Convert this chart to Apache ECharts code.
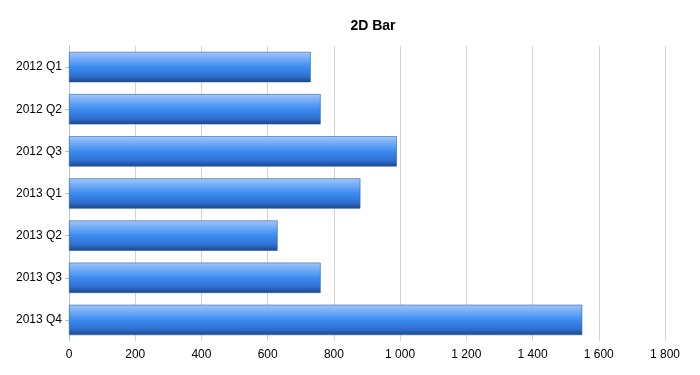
<!DOCTYPE html>
<html>
<head>
<meta charset="utf-8">
<script src="https://cdn.jsdelivr.net/npm/echarts@6/dist/echarts.min.js"></script>
<style>
  html, body { margin: 0; padding: 0; background: #fff; }
  #chart { width: 700px; height: 375px; }
</style>
</head>
<body>
<div id="chart"></div>
<script>
const categories = ['2012 Q1', '2012 Q2', '2012 Q3', '2013 Q1', '2013 Q2', '2013 Q3', '2013 Q4'];
const values = [730, 760, 990, 880, 630, 760, 1550];
const xTicks = { min: 0, max: 1800, interval: 200 };

function spaced(v) {
  return String(v).replace(/\B(?=(\d{3})+(?!\d))/g, ' ');
}

const barColor = new echarts.graphic.LinearGradient(0, 0, 0, 1, [
  { offset: 0, color: '#a3c8fa' },
  { offset: 0.2, color: '#78aef6' },
  { offset: 0.5, color: '#3b8cf0' },
  { offset: 0.8, color: '#2f70d0' },
  { offset: 1, color: '#1b4688' }
]);

const option = {
  animation: false,
  textStyle: { fontFamily: 'Liberation Sans, Arial, sans-serif' },
  title: {
    text: '2D Bar',
    left: 368,
    textAlign: 'center',
    top: 14,
    textStyle: { fontSize: 14, fontWeight: 'bold', color: '#000', fontFamily: 'Liberation Sans, Arial, sans-serif' }
  },
  grid: { left: 69, right: 35, top: 46, bottom: 34, containLabel: false },
  xAxis: {
    type: 'value',
    min: xTicks.min,
    max: xTicks.max,
    interval: xTicks.interval,
    axisLine: { show: false },
    axisTick: { show: false },
    splitLine: { show: true, lineStyle: { color: '#d4d4d4', width: 1 } },
    axisLabel: { color: '#000', fontSize: 12, margin: 8, formatter: spaced }
  },
  yAxis: {
    type: 'category',
    data: categories,
    inverse: true,
    axisLine: { show: true, lineStyle: { color: '#b4c4d4', width: 1 } },
    axisTick: { show: true, alignWithLabel: true, length: 4, lineStyle: { color: '#b4c4d4' } },
    axisLabel: { color: '#000', fontSize: 12, margin: 7 }
  },
  series: [{
    type: 'bar',
    data: values,
    barCategoryGap: '28%',
    itemStyle: {
      color: barColor,
      borderColor: '#2c5fa8',
      borderWidth: 0.6
    }
  }]
};

const myChart = echarts.init(document.getElementById('chart'));
myChart.setOption(option);
</script>
</body>
</html>
